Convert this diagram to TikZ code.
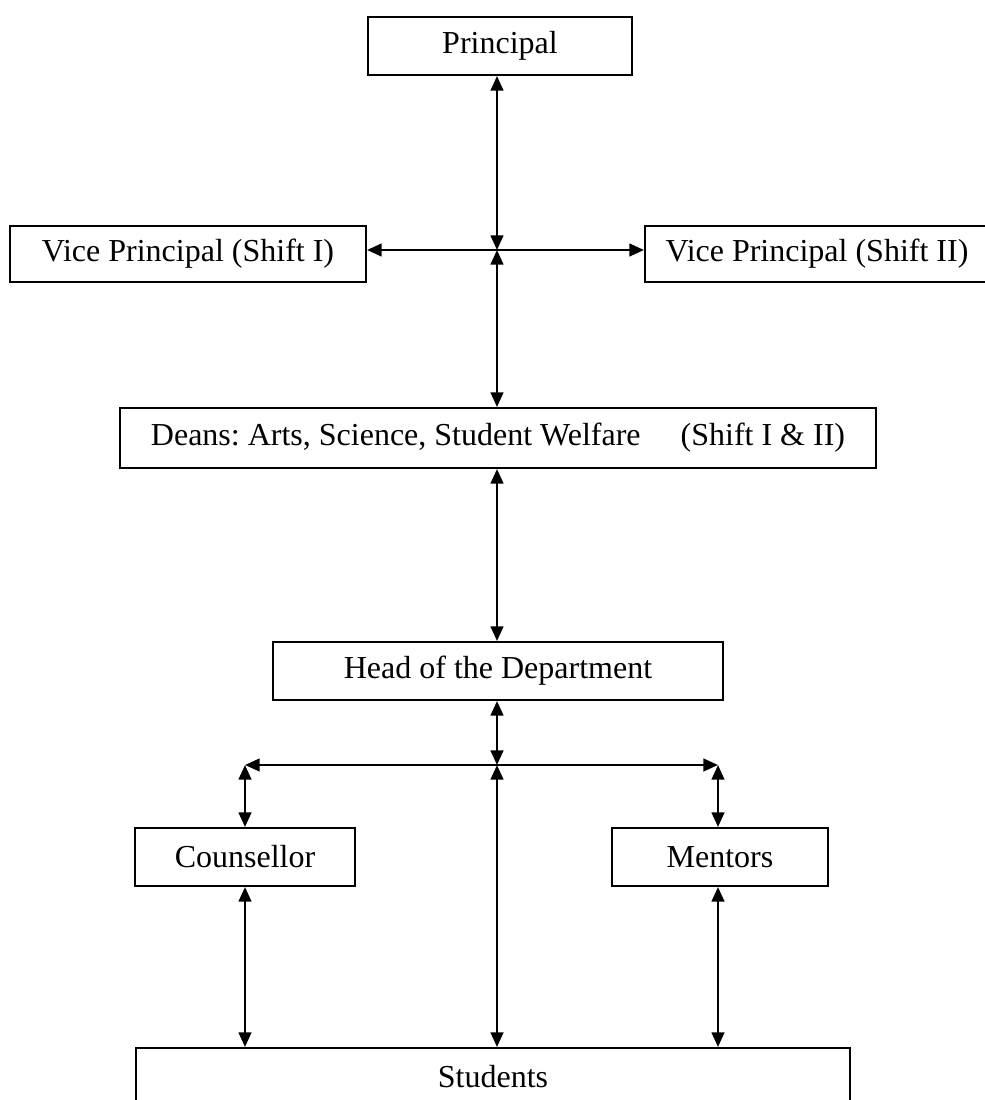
\documentclass[tikz,border=0pt]{standalone}
\usepackage{fontspec}
\setmainfont{Liberation Serif}
\usetikzlibrary{arrows.meta}
\frenchspacing
\begin{document}
\begin{tikzpicture}[x=0.75pt,y=-0.75pt,
  box/.style={draw,line width=1.5pt,rectangle,inner sep=0pt,font=\fontsize{24}{28}\selectfont},
  link/.style={line width=1.8pt,{Triangle[length=11pt,width=9.5pt]}-{Triangle[length=11pt,width=9.5pt]}},
  onehead/.style={line width=1.8pt,-{Triangle[length=11pt,width=9.5pt]}}]
\useasboundingbox (0,0) rectangle (985,1100);
\clip (0,0) rectangle (985,1100);
\node[box,minimum width=264pt*0.75,minimum height=58pt*0.75] (P) at (500,46) {Principal};
\node[box,minimum width=356pt*0.75,minimum height=56pt*0.75] (V1) at (188,254) {Vice Principal (Shift I)};
\node[box,minimum width=344pt*0.75,minimum height=56pt*0.75] (V2) at (817,254) {Vice Principal (Shift II)};
\node[box,minimum width=756pt*0.75,minimum height=60pt*0.75] (D) at (498,438) {Deans: Arts, Science, Student Welfare\hspace{30pt}(Shift I \& II)};
\node[box,minimum width=450pt*0.75,minimum height=58pt*0.75] (H) at (498,671) {Head of the Department};
\node[box,minimum width=220pt*0.75,minimum height=58pt*0.75] (C) at (245,857) {Counsellor};
\node[box,minimum width=216pt*0.75,minimum height=58pt*0.75] (M) at (720,857) {Mentors};
\node[box,minimum width=714pt*0.75,minimum height=58pt*0.75] (S) at (493,1077) {Students};
\coordinate (J1) at (497,250);
\coordinate (J2) at (497,765);
\coordinate (BL) at (245,765);
\coordinate (BR) at (718,765);
\draw[link] (P.south -| J1) -- (J1);
\draw[link] (J1) -- (D.north -| J1);
\draw[onehead] (J1) -- (V1.east |- J1);
\draw[onehead] (J1) -- (V2.west |- J1);
\draw[link] (D.south -| J1) -- (H.north -| J1);
\draw[link] (H.south -| J2) -- (J2);
\draw[onehead] (J2) -- (BL);
\draw[onehead] (J2) -- (BR);
\draw[link] (BL) -- (C.north -| BL);
\draw[link] (BR) -- (M.north -| BR);
\draw[link] (J2) -- (S.north -| J2);
\draw[link] (C.south -| BL) -- (S.north -| BL);
\draw[link] (M.south -| BR) -- (S.north -| BR);
\end{tikzpicture}
\end{document}
